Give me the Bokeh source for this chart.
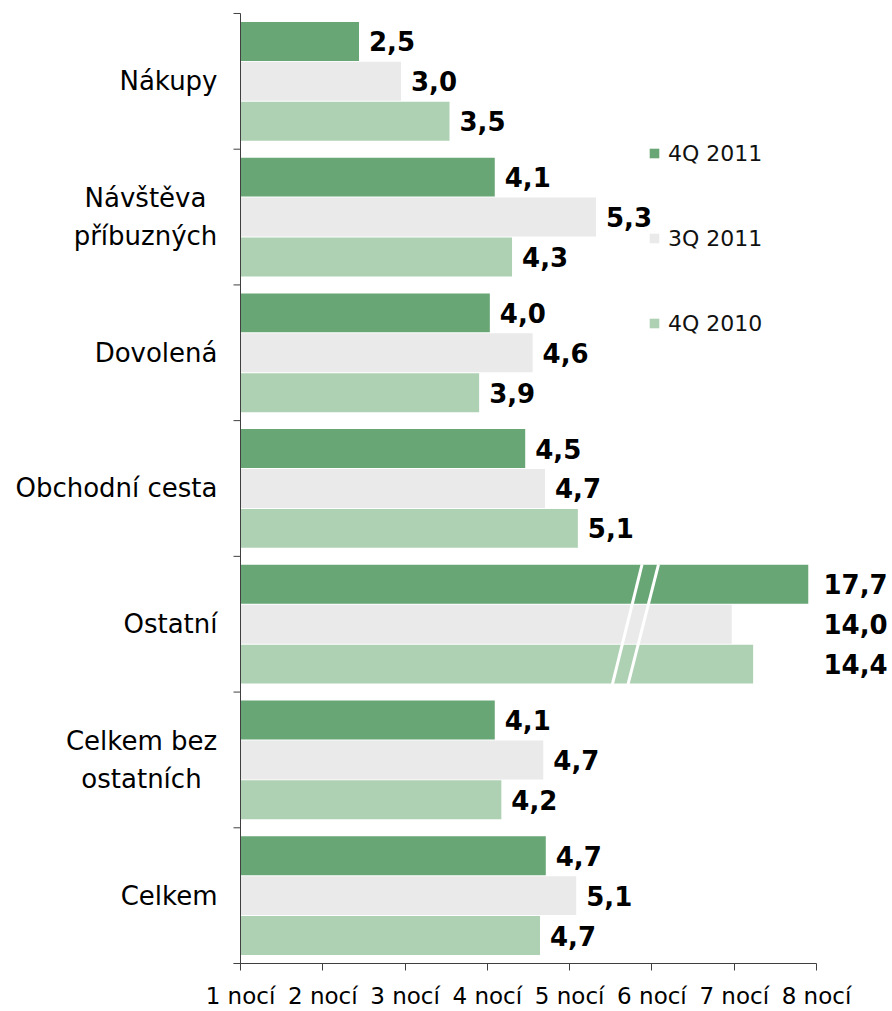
from bokeh.plotting import figure
from bokeh.models import Range1d, FixedTicker, ColumnDataSource, Legend, LegendItem
from bokeh.embed import file_html
from bokeh.resources import INLINE
from bokeh.core.properties import value

# ---------------- data ----------------
categories = ["Nákupy", "Návštěva\npříbuzných", "Dovolená", "Obchodní cesta",
              "Ostatní", "Celkem bez\nostatních", "Celkem"]
series = ["4Q 2011", "3Q 2011", "4Q 2010"]
values_4q11 = [2.5, 4.1, 4.0, 4.5, 17.7, 4.1, 4.7]
values_3q11 = [3.0, 5.3, 4.6, 4.7, 14.0, 4.7, 5.1]
values_4q10 = [3.5, 4.3, 3.9, 5.1, 14.4, 4.2, 4.7]
# drawn bar ends (Ostatní is cut by an axis break)
bars_4q11 = [2.44, 4.09, 4.03, 4.46, 7.90, 4.09, 4.71]
bars_3q11 = [2.95, 5.32, 4.55, 4.70, 6.97, 4.68, 5.08]
bars_4q10 = [3.54, 4.30, 3.90, 5.10, 7.23, 4.17, 4.64]
broken_category = "Ostatní"
tick_values = [1, 2, 3, 4, 5, 6, 7, 8]
tick_labels = ["1 nocí", "2 nocí", "3 nocí", "4 nocí", "5 nocí", "6 nocí", "7 nocí", "8 nocí"]

# ---------------- style / layout ----------------
colors = ["#68A676", "#EAEAEA", "#AED1B3"]
FONT = "DejaVu Sans"
W, H = 892, 1011
PX_PER_UNIT = 576 / 7.0          # x scale (screen px per night)
X0_PX = 240                      # x=1 at this figure pixel
FRAME_H = 965                    # frame height in px
BAND_PX = 136                    # category band height in px
x_start = 1 - X0_PX / PX_PER_UNIT
x_end = 1 + (W - X0_PX) / PX_PER_UNIT
y_end = FRAME_H / BAND_PX
n = len(categories)

p = figure(width=W, height=H, x_range=Range1d(x_start, x_end), y_range=Range1d(0, y_end),
           output_backend="svg", toolbar_location=None, y_axis_location=None,
           min_border_left=0, min_border_right=0, min_border_top=0, min_border_bottom=0)
p.outline_line_color = None
p.xgrid.visible = False
p.ygrid.visible = False
p.background_fill_color = "white"
p.border_fill_color = "white"

centers = [n - 0.5 - i for i in range(n)]
offs = [0.294, 0.0, -0.294]
bar_h = 0.287
all_vals = [values_4q11, values_3q11, values_4q10]
all_bars = [bars_4q11, bars_3q11, bars_4q10]

renderers = []
lab_x, lab_y, lab_t = [], [], []
for s in range(3):
    ys = [c + offs[s] for c in centers]
    src = ColumnDataSource(dict(y=ys, right=all_bars[s], left=[1] * n))
    r = p.hbar(y="y", left="left", right="right", height=bar_h, source=src,
               fill_color=colors[s], line_color=None)
    renderers.append(r)
    for i in range(n):
        lab_y.append(ys[i])
        lab_t.append(f"{all_vals[s][i]:.1f}".replace(".", ","))
        if categories[i] == broken_category:
            lab_x.append(8 + 7 / PX_PER_UNIT)
        else:
            lab_x.append(all_bars[s][i] + 10 / PX_PER_UNIT)

p.text(x=lab_x, y=lab_y, text=lab_t, text_font=value(FONT), text_font_style="bold",
       text_font_size="26px", text_align="left", text_baseline="middle", text_color="black")

# axis break marks on the Ostatní group
bi = categories.index(broken_category)
btop = centers[bi] + 0.441
bbot = centers[bi] - 0.441
for xt, xb in [(5.88, 5.52), (6.08, 5.71)]:
    p.segment(x0=[xt], y0=[btop], x1=[xb], y1=[bbot], line_color="white", line_width=3)

# y axis line and boundary ticks
p.segment(x0=[1], y0=[0], x1=[1], y1=[n], line_color="#404040", line_width=1)
tick_len = 7 / PX_PER_UNIT
p.segment(x0=[1 - tick_len] * (n + 1), y0=list(range(n + 1)), x1=[1] * (n + 1),
          y1=list(range(n + 1)), line_color="#404040", line_width=1)

# category labels
single = [(c, centers[i]) for i, c in enumerate(categories) if "\n" not in c]
multi = [(c, centers[i]) for i, c in enumerate(categories) if "\n" in c]
p.text(x=[1 - 23 / PX_PER_UNIT] * len(single), y=[s[1] for s in single], text=[s[0] for s in single],
       text_font=value(FONT), text_font_size="26px", text_align="right", text_baseline="middle",
       text_color="black")
multi_cx = [145, 141]
p.text(x=[1 - (X0_PX - cx) / PX_PER_UNIT for cx in multi_cx], y=[m[1] for m in multi],
       text=[m[0] for m in multi], text_font=value(FONT), text_font_size="26px",
       text_align="center", text_baseline="middle", text_color="black", text_line_height=1.25)

# x axis
ax = p.xaxis[0]
ax.ticker = FixedTicker(ticks=tick_values)
ax.major_label_overrides = {t: l for t, l in zip(tick_values, tick_labels)}
ax.bounds = (1 - tick_len, 8)
ax.axis_line_color = "#404040"
ax.major_tick_line_color = "#404040"
ax.major_tick_in = 0
ax.major_tick_out = 7
ax.minor_tick_line_color = None
ax.major_label_standoff = 12
ax.major_label_text_font = FONT
ax.major_label_text_font_size = "23px"
ax.major_label_text_color = "black"

legend = Legend(items=[LegendItem(label=series[s], renderers=[renderers[s]]) for s in range(3)],
                location=(648, 627), orientation="vertical", glyph_width=12, glyph_height=12,
                label_height=26, spacing=59, label_standoff=8, padding=0, margin=0,
                border_line_color=None, background_fill_alpha=0,
                label_text_font=FONT, label_text_font_size="22px", label_text_color="#111111")
p.add_layout(legend, "center")

open("out.html", "w").write(file_html(p, INLINE))
